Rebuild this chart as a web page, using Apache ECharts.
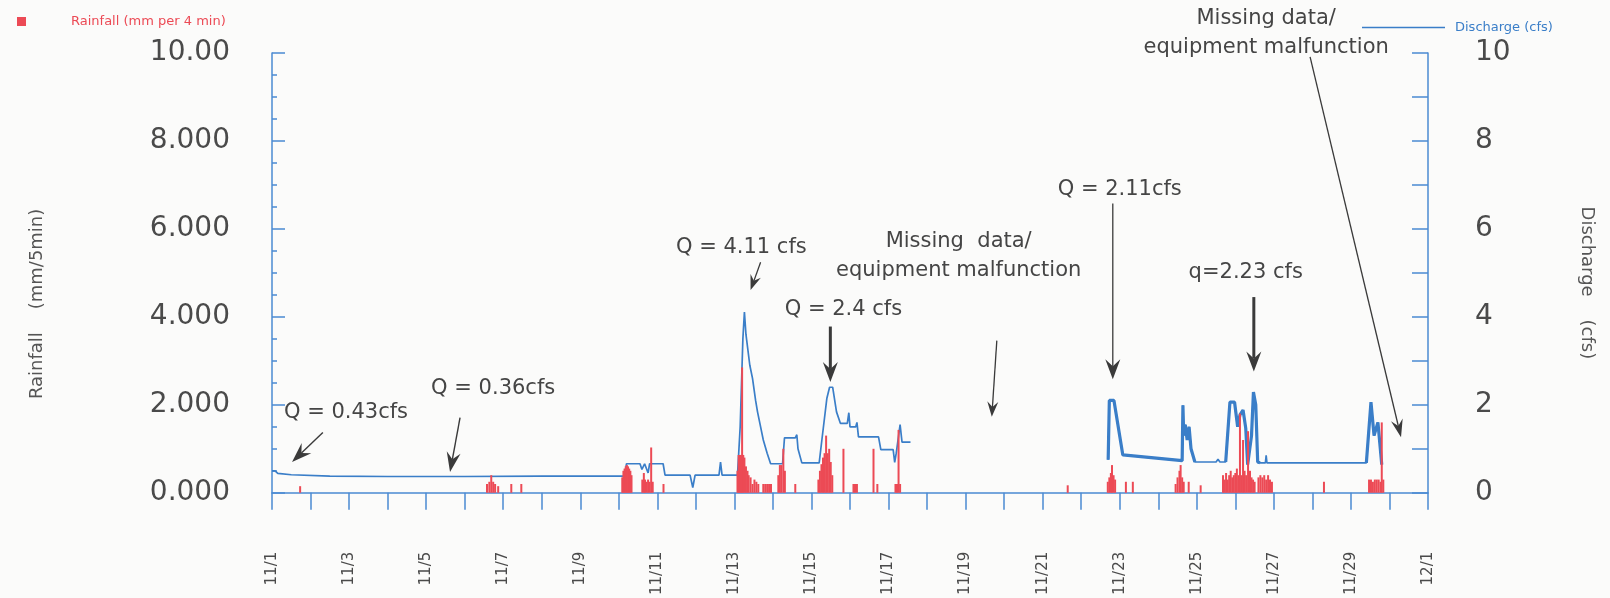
<!DOCTYPE html>
<html>
<head>
<meta charset="utf-8">
<script src="https://cdn.jsdelivr.net/npm/echarts@6/dist/echarts.min.js"></script>
<style>
html,body{margin:0;padding:0;background:#fbfbfa;}
#chart{width:1610px;height:598px;}
</style>
</head>
<body>
<div id="chart"></div>
<script>
// ---- data (day 0 = 11/1 00:00) ----
const dayLabels = ['11/1','11/3','11/5','11/7','11/9','11/11','11/13','11/15','11/17','11/19','11/21','11/23','11/25','11/27','11/29','12/1'];
const rainTickLabels = ['0.000','2.000','4.000','6.000','8.000','10.00'];
const flowTickLabels = ['0','2','4','6','8','10'];

const rainDay = [0.73,
  5.58,5.64,5.69,5.74,5.79,5.87, 6.21, 6.47,
  9.09,9.12,9.15,9.18,9.21,9.24,9.27,9.30,9.33,
  9.61,9.65,9.68,9.72,9.76,9.80,9.84,9.88, 10.16,
  12.08,12.11,12.14,12.17,12.20,12.23,12.26,12.30,12.34,
  12.37,12.42,12.47,12.52,12.57,12.62,
  12.75,12.80,12.85,12.90,12.95,
  13.14,13.18,13.22,13.27,13.31, 13.58,
  14.18,14.22,14.26,14.30,14.34,14.38,14.42,14.46,14.50,14.54,
  14.83, 15.09,15.13,15.18, 15.61, 15.71,
  16.18,16.22,16.26,16.30,
  20.65,
  21.69,21.73,21.77,21.80,21.84,21.88, 22.16, 22.34,
  23.45,23.50,23.55,23.58,23.62,23.66, 23.79, 24.10,
  24.68,24.72,24.76,24.80,24.84,24.88,24.92,24.96,25.00,25.04,25.08,25.12,25.16,25.20,25.24,25.28,25.33,25.38,25.42,25.46,25.50,
  25.60,25.65,25.70,25.75,25.80,25.85,25.90,25.95,
  27.30,
  28.47,28.52,28.57,28.62,28.67,28.72,28.77,28.80,28.84];
const rainMm = [0.15,
  0.2,0.25,0.4,0.25,0.2,0.15, 0.2, 0.2,
  0.35,0.5,0.55,0.6,0.63,0.6,0.55,0.5,0.4,
  0.3,0.45,0.3,0.25,0.3,0.25,1.03,0.25, 0.2,
  0.5,0.86,0.86,0.86,2.85,0.86,0.8,0.6,0.5,
  0.4,0.35,0.2,0.3,0.25,0.2,
  0.2,0.2,0.2,0.2,0.2,
  0.4,0.63,0.63,1.0,0.5, 0.2,
  0.3,0.5,0.65,0.8,0.9,1.3,0.9,1.0,0.7,0.4,
  1.0, 0.2,0.2,0.2, 1.0, 0.2,
  0.2,0.2,1.43,0.2,
  0.17,
  0.25,0.35,0.45,0.63,0.4,0.3, 0.25, 0.25,
  0.2,0.35,0.5,0.63,0.35,0.25, 0.25, 0.17,
  0.4,0.3,0.45,0.3,0.4,0.5,0.35,0.4,0.45,0.55,0.4,1.8,0.4,1.2,0.5,0.4,1.4,0.5,0.35,0.3,0.25,
  0.35,0.4,0.35,0.4,0.3,0.4,0.3,0.25,
  0.25,
  0.3,0.3,0.25,0.3,0.3,0.3,0.25,1.6,0.3];

const flowDay = [0.00,0.08,0.15,0.5,1.5,3.0,5.0,7.0,9.15,
  9.20,9.55,9.60,9.67,9.72,9.76,9.80,10.15,10.20,10.85,10.92,10.98,11.60,11.64,11.68,12.08,
  12.15,12.22,12.26,12.30,12.40,12.47,12.55,12.60,12.68,12.75,12.85,12.94,
  13.25,13.30,13.58,13.62,13.65,13.75,14.20,14.27,14.40,14.47,14.55,14.65,14.75,14.93,14.97,15.00,15.15,15.18,15.22,
  15.74,15.80,16.12,16.16,16.20,16.30,16.35,16.57,
  16.60,
  21.70,21.73,21.85,22.08,23.62,23.64,23.66,23.70,23.75,23.80,23.85,23.95,24.50,24.55,24.60,24.75,
  24.86,24.98,25.06,25.12,25.20,25.27,25.32,25.42,25.47,25.53,25.58,25.64,25.78,25.80,25.82,
  28.40,28.52,28.60,28.70,28.80];
const flowCfs = [0.50,0.50,0.44,0.41,0.38,0.37,0.37,0.38,0.38,
  0.66,0.66,0.53,0.66,0.66,0.45,0.66,0.66,0.40,0.40,0.12,0.40,0.40,0.70,0.40,0.40,
  1.50,3.50,4.11,3.60,2.90,2.60,2.10,1.84,1.50,1.20,0.90,0.66,
  0.66,1.25,1.25,1.32,1.00,0.68,0.68,1.20,2.15,2.40,2.40,1.84,1.58,1.58,1.82,1.50,1.50,1.60,1.27,
  1.27,0.98,0.98,0.69,0.90,1.55,1.15,1.15,
  null,
  0.75,2.10,2.10,0.86,0.73,1.99,1.30,1.55,1.20,1.50,1.00,0.70,0.70,0.76,0.70,0.70,
  2.06,2.06,1.50,1.77,1.88,1.47,0.64,1.30,2.29,2.00,0.70,0.68,0.68,0.85,0.68,
  0.68,2.06,1.30,1.60,0.64];
// day ranges where the recorded discharge trace is dense (drawn heavier)
const denseRanges = [[21.70,23.95],[24.75,25.64],[28.40,28.80]];

// annotations: text position and arrow (data coords: [day, cfs])
const notes = [
  {text:'Q = 0.43cfs', at:[1.92,1.82], from:[1.32,1.37], to:[0.52,0.70], head:[20,14], w:1.4},
  {text:'Q = 0.36cfs', at:[5.74,2.38], from:[4.88,1.71], to:[4.62,0.47], head:[20,14], w:1.4},
  {text:'Q = 4.11 cfs', at:[12.18,5.57], from:[12.68,5.24], to:[12.42,4.61], head:[15,11], w:1.3},
  {text:'Q = 2.4 cfs', at:[14.83,4.16], from:[14.49,3.78], to:[14.49,2.52], head:[20,15], w:3},
  {text:'Missing  data/\nequipment malfunction', at:[17.82,5.39], from:[18.81,3.46], to:[18.68,1.73], head:[15,11], w:1.3},
  {text:'Q = 2.11cfs', at:[22.0,6.90], from:[21.82,6.58], to:[21.82,2.58], head:[20,15], w:1.3},
  {text:'q=2.23 cfs', at:[25.27,5.01], from:[25.48,4.45], to:[25.48,2.76], head:[20,15], w:3},
  {text:'Missing data/\nequipment malfunction', at:[25.80,10.45], from:[26.94,9.91], to:[29.3,1.26], head:[18,12], w:1.3}
];

const rainData = rainDay.map((d,i)=>[d, rainMm[i]]);
const flowData = flowDay.map((d,i)=>[d, flowCfs[i]]);
const inDense = d => denseRanges.some(r => d >= r[0] && d <= r[1]);
const flowDense = flowDay.map((d,i)=>[d, inDense(d) ? flowCfs[i] : null]);

const RED = '#ec4a55', BLUE = '#3a7ec8', AXIS = '#4b8bd2', GREY = '#4a4a4a';
const FONT = 'DejaVu Sans';

const chart = echarts.init(document.getElementById('chart'));
const option = {
  backgroundColor: '#fbfbfa',
  animation: false,
  textStyle: {fontFamily: FONT},
  legend: [
    {data:[{name:'Rainfall (mm per 4 min)', icon:'rect'}], left:12, top:10, itemWidth:9, itemHeight:9,
     textStyle:{color:RED, fontSize:13, fontFamily:FONT, padding:[0,0,0,40]}},
    {data:[{name:'Discharge (cfs)', icon:'rect'}], left:1357, top:16, itemWidth:83, itemHeight:1.5,
     textStyle:{color:BLUE, fontSize:13, fontFamily:FONT, padding:[0,0,0,5]}}
  ],
  grid: {left:272, right:182, top:53, bottom:100},
  xAxis: {
    type:'value', min:0, max:30, interval:1,
    axisLine:{show:true, lineStyle:{color:AXIS, width:1.5}},
    axisTick:{show:true, inside:false, length:17, lineStyle:{color:AXIS, width:1.5}},
    splitLine:{show:false},
    axisLabel:{rotate:90, margin:59, fontSize:15, color:GREY, fontFamily:FONT,
      formatter: v => (v % 2 === 0 ? dayLabels[v/2] : '')}
  },
  yAxis: [
    {type:'value', min:0, max:10, interval:2, position:'left',
     name:'Rainfall    (mm/5min)', nameLocation:'middle', nameRotate:90, nameGap:226,
     nameTextStyle:{fontSize:18, color:'#555', fontFamily:FONT, padding:[0,62,0,0]},
     axisLine:{show:true, lineStyle:{color:AXIS, width:1.5}},
     axisTick:{show:true, inside:true, length:13, lineStyle:{color:AXIS, width:1.5}},
     minorTick:{show:true, splitNumber:4, length:5, lineStyle:{color:AXIS, width:1.5}},
     splitLine:{show:false},
     axisLabel:{margin:42, fontSize:28, color:GREY, fontFamily:FONT,
       formatter: v => rainTickLabels[Math.round(v/2)]}},
    {type:'value', min:0, max:10, interval:2, position:'right',
     name:'Discharge    (cfs)', nameLocation:'middle', nameRotate:-90, nameGap:150,
     nameTextStyle:{fontSize:18, color:'#555', fontFamily:FONT, padding:[0,0,0,20]},
     axisLine:{show:true, lineStyle:{color:AXIS, width:1.5}},
     axisTick:{show:true, inside:true, length:16, lineStyle:{color:AXIS, width:1.5}},
     minorTick:{show:true, splitNumber:2, length:16, lineStyle:{color:AXIS, width:1.5}},
     splitLine:{show:false},
     axisLabel:{margin:47, fontSize:28, color:GREY, fontFamily:FONT,
       formatter: v => flowTickLabels[Math.round(v/2)]}}
  ],
  series: [
    {name:'Discharge (cfs)', type:'line', yAxisIndex:1, data:flowData, symbol:'none',
     showSymbol:false, connectNulls:false, color:BLUE, lineStyle:{color:BLUE, width:1.7}, z:2},
    {name:'Discharge (cfs)', type:'line', yAxisIndex:1, data:flowDense, symbol:'none',
     showSymbol:false, connectNulls:false, color:BLUE, lineStyle:{color:BLUE, width:3.2}, z:2},
    {name:'Rainfall (mm per 4 min)', type:'bar', yAxisIndex:0, data:rainData, barWidth:2,
     color:RED, itemStyle:{color:RED}, z:3}
  ]
};
chart.setOption(option);

// annotations placed via the chart's own scales
function px(p){ return chart.convertToPixel({xAxisIndex:0, yAxisIndex:1}, p); }
const g = [];
notes.forEach(n => {
  const a = px(n.at), f = px(n.from), t = px(n.to);
  g.push({type:'text', x:a[0], y:a[1], z:10,
    style:{text:n.text, fill:'#454545', font:'21px "DejaVu Sans"', align:'center', verticalAlign:'middle', lineHeight:29}});
  const dx = t[0]-f[0], dy = t[1]-f[1], L = Math.hypot(dx,dy), ux = dx/L, uy = dy/L;
  const hl = n.head[0], hw = n.head[1]/2;
  const bx = t[0]-ux*hl, by = t[1]-uy*hl;
  const nx = t[0]-ux*hl*0.65, ny = t[1]-uy*hl*0.65;
  g.push({type:'line', z:10, shape:{x1:f[0], y1:f[1], x2:nx, y2:ny}, style:{stroke:'#3a3a3a', lineWidth:n.w}});
  g.push({type:'polygon', z:10, shape:{points:[[t[0],t[1]],[bx-uy*hw, by+ux*hw],[nx,ny],[bx+uy*hw, by-ux*hw]]},
    style:{fill:'#3a3a3a'}});
});
chart.setOption({graphic: g});
</script>
</body>
</html>
